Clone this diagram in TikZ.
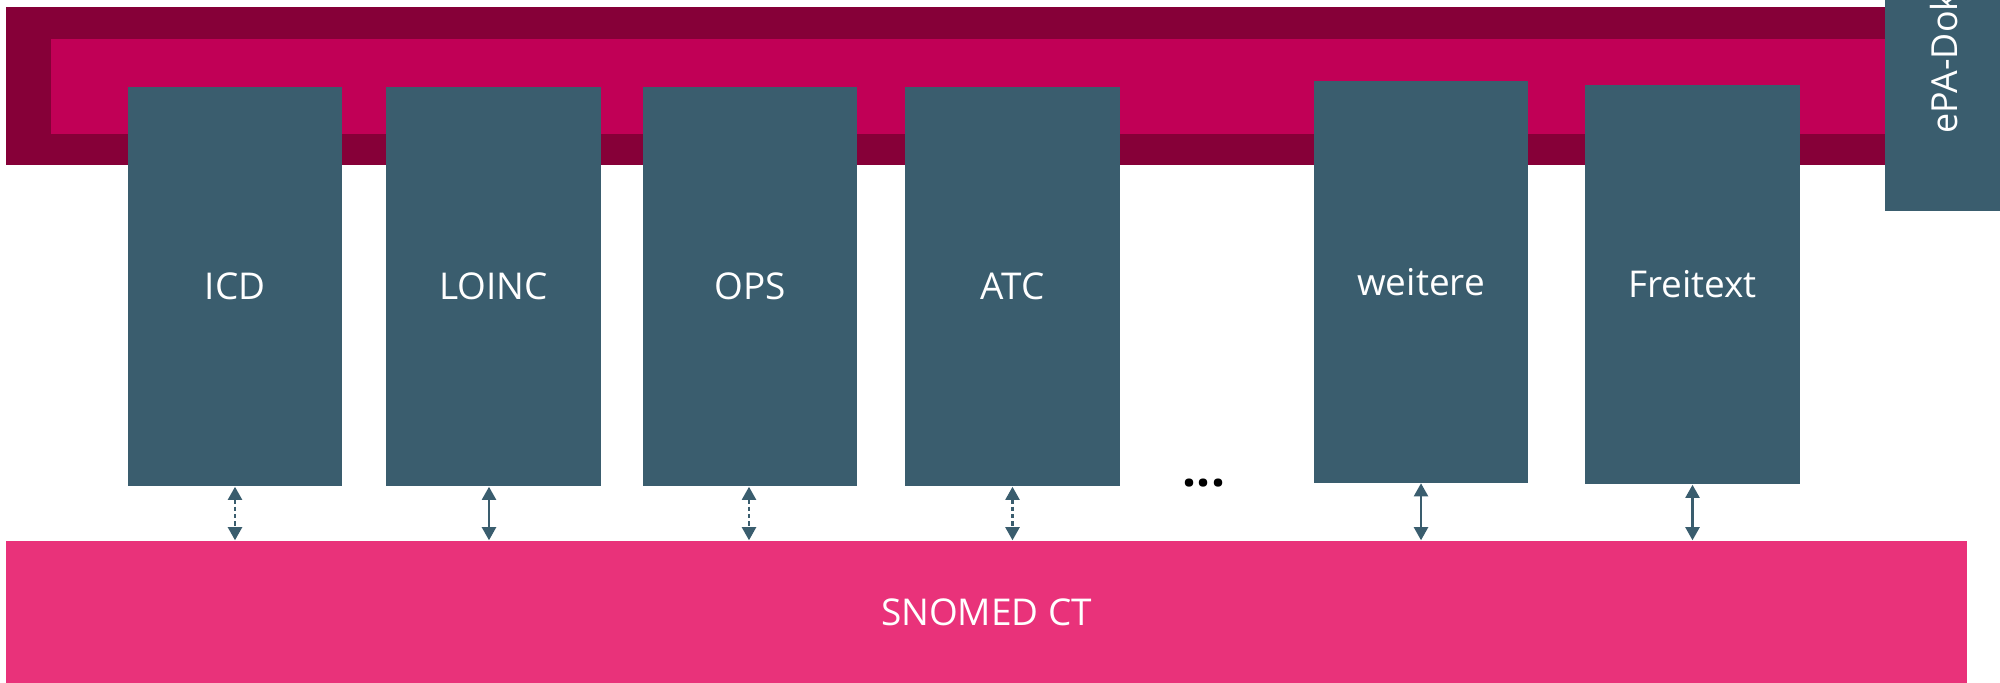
\documentclass[tikz,border=0pt]{standalone}
\usepackage{fontspec}
\setmainfont{Open Sans}
\usepackage{xcolor}
\usetikzlibrary{positioning,arrows.meta}

\definecolor{bandDark}{RGB}{134,0,56}
\definecolor{bandPink}{RGB}{193,0,86}
\definecolor{codeTeal}{RGB}{58,93,110}
\definecolor{snomedPink}{RGB}{233,50,122}
\definecolor{lineTeal}{RGB}{130,156,168}

\tikzset{
  codebox/.style={fill=codeTeal, text=white, inner sep=0pt, minimum width=2.14cm,
    minimum height=3.99cm, font=\fontsize{10.5}{12}\selectfont},
  maplink/.style={line width=0.6pt, {Triangle[width=0.14cm,length=0.13cm]}-{Triangle[width=0.14cm,length=0.13cm]}},
  exact/.style={maplink, draw=lineTeal, codeTeal},
  loose/.style={maplink, draw=codeTeal, codeTeal, dash pattern=on 1.2pt off 0.9pt}
}

\begin{document}
\begin{tikzpicture}[x=0.01cm,y=-0.01cm]
\useasboundingbox (0,0) rectangle (2000,683);
\clip (0,0) rectangle (2000,683);
\node (outer) [fill=bandDark, inner sep=0pt, minimum width=18.78cm, minimum height=1.58cm] at (946,86) {};
\node (inner) [fill=bandPink, inner sep=0pt, minimum width=18.33cm, minimum height=0.95cm] at (968.5,86.5) {};
\node (epa) [fill=codeTeal, inner sep=0pt, minimum width=1.25cm, minimum height=2.21cm] at (1947.5,100.5) {};
\node (epatext) [rotate=90, anchor=base west, inner sep=0pt, text=white, font=\fontsize{10.2}{12}\selectfont] at (1957,134) {ePA-Dokumente};
\node (snomed) [fill=snomedPink, text=white, inner sep=0pt, minimum width=19.59cm, minimum height=1.42cm, font=\fontsize{10.5}{12}\selectfont] at (986.5,612) {SNOMED CT};
\node (icd) [codebox] at (235,286.5) {ICD};
\node (loinc) [codebox] at (493.5,286.5) {LOINC};
\node (ops) [codebox] at (750,286.5) {OPS};
\node (atc) [codebox] at (1012.5,286.5) {ATC};
\node (weitere) [codebox, minimum height=4.01cm] at (1421,282) {weitere};
\node (freitext) [codebox] at (1692.5,284.5) {Freitext};
\node (dots) [anchor=base, inner sep=0pt, font=\bfseries\fontsize{14}{14}\selectfont] at (1204,487) {...};
\draw [loose] (icd.south) -- (icd.south |- snomed.north);
\draw [exact] (loinc.south -| 489,0) -- (489,0 |- snomed.north);
\draw [loose] (ops.south -| 749,0) -- (749,0 |- snomed.north);
\draw [loose] (atc.south) -- (atc.south |- snomed.north);
\draw [exact] (weitere.south) -- (weitere.south |- snomed.north);
\draw [exact] (freitext.south) -- (freitext.south |- snomed.north);
\end{tikzpicture}
\end{document}
